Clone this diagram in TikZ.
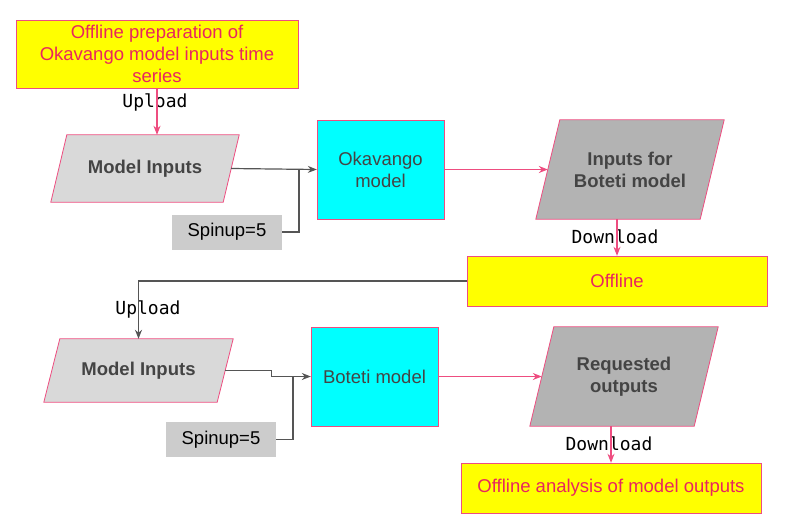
\documentclass[tikz,border=0pt]{standalone}
\usepackage{fontspec}
\setmainfont{Liberation Sans}
\setmonofont{DejaVu Sans Mono}
\usepackage{tikz}
\usetikzlibrary{positioning, arrows.meta}
\pgfdeclarelayer{background}
\pgfsetlayers{background,main}
\definecolor{pinkline}{HTML}{EE4D80}
\definecolor{pinktext}{HTML}{E8265E}
\definecolor{darktext}{HTML}{444444}
\definecolor{wire}{HTML}{555555}
\definecolor{lightgrey}{HTML}{D9D9D9}
\definecolor{midgrey}{HTML}{B3B3B3}
\definecolor{spingrey}{HTML}{CCCCCC}
\definecolor{boxyellow}{HTML}{FFFF00}
\definecolor{boxcyan}{HTML}{00FFFF}
\tikzset{
    offline/.style={
        draw = pinkline, fill = boxyellow,
        minimum height = 50pt,
        align = center, text = pinktext,
        font = \fontsize{18.5}{22}\selectfont
    },
    model/.style={
        draw = pinkline, fill = boxcyan,
        minimum width = 127pt, minimum height = 99pt,
        align = center, text = darktext,
        font = \fontsize{18.5}{22}\selectfont
    },
    data/.style={
        inner sep = 0pt,
        align = center, text = darktext,
        font = \bfseries\fontsize{18.5}{22}\selectfont
    },
    spin/.style={
        fill = spingrey, minimum width = 110pt, minimum height = 35pt,
        font = \fontsize{18.5}{22}\selectfont
    },
    tag/.style = {font = \ttfamily\fontsize{18}{20}\selectfont},
    pinkarrow/.style = {-{Stealth[length=9pt, width=7pt]}, draw = pinkline, line width = 1.2pt},
    greyarrow/.style = {-{Stealth[length=9pt, width=7pt]}, draw = wire, line width = 1.2pt}
}
% parallelogram behind a data node: name, fill, half of the slant
\newcommand{\slantbox}[3]{
    \begin{pgfonlayer}{background}
        \draw[pinkline, fill = #2, line width = 0.8pt]
            ([xshift=#3]#1.north west) -- ([xshift=#3]#1.north east)
            -- ([xshift=-#3]#1.south east) -- ([xshift=-#3]#1.south west) -- cycle;
    \end{pgfonlayer}
}

\begin{document}
\begin{tikzpicture}[x=1pt, y=-1pt]

    \useasboundingbox (0,0) rectangle (786,528);

    % Okavango part
    \node[offline, minimum width = 282pt, minimum height = 68pt] (prep) at (157,54)
        {Offline preparation of\\Okavango model inputs time\\series};
    \node[data, minimum width = 172pt, minimum height = 67pt] (mi1) at (145,168.5) {Model Inputs};
    \slantbox{mi1}{lightgrey}{8pt}
    \node[spin] (spin1) at (227,232) {Spinup=5};
    \node[model] (oka) at (380.5,169.5) {Okavango\\model};
    \node[data, minimum width = 164pt, minimum height = 99pt] (inb) at (630,169.5) {Inputs for\\Boteti model};
    \slantbox{inb}{midgrey}{12pt}
    \node[offline, minimum width = 300pt] (off1) at (617,281) {Offline};

    % Boteti part
    \node[data, minimum width = 173pt, minimum height = 63pt] (mi2) at (138.5,370.5) {Model Inputs};
    \slantbox{mi2}{lightgrey}{8pt}
    \node[spin] (spin2) at (221,439.5) {Spinup=5};
    \node[model] (bot) at (374.5,376.5) {Boteti model};
    \node[data, minimum width = 164pt, minimum height = 99pt] (req) at (624,376.5) {Requested\\outputs};
    \slantbox{req}{midgrey}{12pt}
    \node[offline, minimum width = 300pt] (off2) at (611,488) {Offline analysis of model outputs};

    % labels
    \node[tag] (up1) at (155,102) {Upload};
    \node[tag] (dl1) at (615,237) {Download};
    \node[tag] (up2) at (148,309) {Upload};
    \node[tag] (dl2) at (609,444) {Download};

    \coordinate (j1) at (299,169.5);
    \coordinate (j2) at (293,376.5);

    \draw[pinkarrow] (prep.south) -- (prep.south |- mi1.north);
    \draw[greyarrow] (mi1.east) -- (oka.west);
    \draw[wire, line width = 1.2pt] (spin1.east) -| (j1);
    \draw[pinkarrow] (oka.east) -- (inb.west);
    \draw[pinkarrow] (off1.north |- inb.south) -- (off1.north);
    \draw[greyarrow] (off1.west) -| (mi2.north);
    \draw[greyarrow] (mi2.east) -- ++(46,0) |- (bot.west);
    \draw[wire, line width = 1.2pt] (spin2.east) -| (j2);
    \draw[pinkarrow] (bot.east) -- (req.west);
    \draw[pinkarrow] (off2.north |- req.south) -- (off2.north);

\end{tikzpicture}
\end{document}
